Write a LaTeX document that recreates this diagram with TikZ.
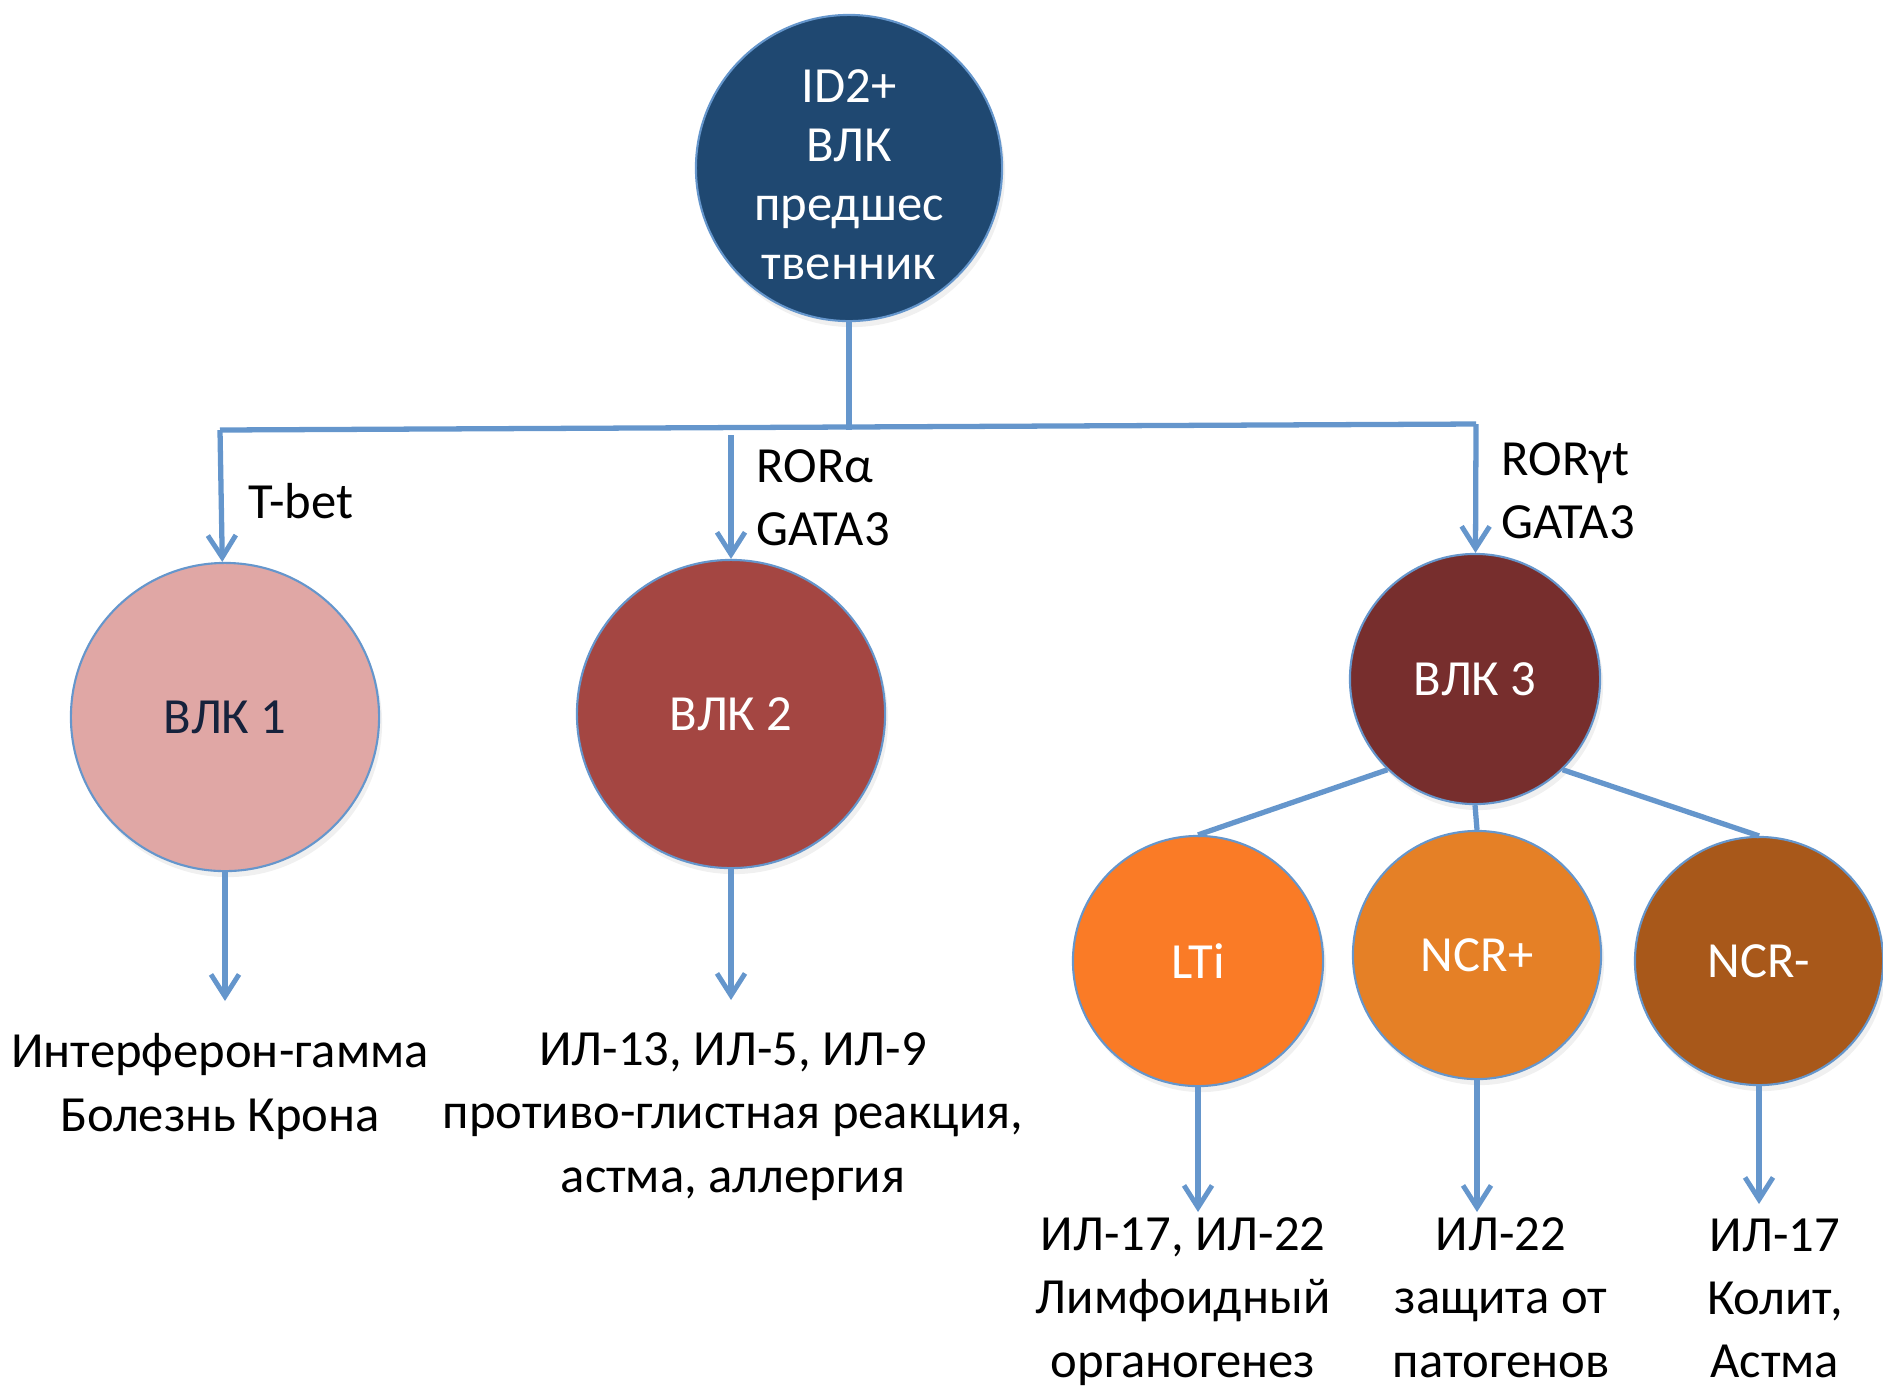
\documentclass[tikz,border=0pt]{standalone}
\usepackage{fontspec}
\setmainfont{Carlito}
\usetikzlibrary{arrows.meta, shadows}

\definecolor{linkblue}{RGB}{101,150,204}
\definecolor{progblue}{RGB}{31,72,113}
\definecolor{ilcone}{RGB}{224,167,165}
\definecolor{ilctwo}{RGB}{164,70,66}
\definecolor{ilcthree}{RGB}{119,46,45}
\definecolor{ltiorange}{RGB}{250,123,38}
\definecolor{ncrplus}{RGB}{229,128,38}
\definecolor{ncrminus}{RGB}{168,88,26}
\definecolor{navytext}{RGB}{22,34,60}

\begin{document}
\begin{tikzpicture}[
            x = 0.01cm, y = -0.01cm, % one unit = one pixel of the slide
            > = {Straight Barb[length=2.2mm, width=2.8mm, line width=1.4pt]}, % arrow head style
            line width = 1.5pt,
            font = \fontsize{14.4}{18}\selectfont
        ]

        \tikzstyle{cell}=[
            circle,
            draw = linkblue,
            line width = 0.6pt,
            text = white,
            align = center,
            inner sep = 0pt,
            drop shadow = {opacity = 0.12, shadow xshift = 0.3mm, shadow yshift = -0.6mm}
        ]
        \tikzstyle{link}=[draw = linkblue]
        \tikzstyle{res}=[align = center, anchor = north, inner sep = 0pt]
        \tikzstyle{tf}=[align = left, anchor = west, inner sep = 0pt]

        \useasboundingbox (0,0) rectangle (1883,1390);

        \node[cell, fill = progblue, minimum size = 3.06cm, font = \fontsize{14.4}{16.8}\selectfont] (prog) at (  849 ,  168 ) {\rule{0pt}{4.6mm}ID2+\\ВЛК\\предшес\\твенник};
        \node[cell, fill = ilcone, text = navytext, minimum size = 3.08cm] (ilc1) at (  225 ,  717 ) {ВЛК 1};
        \node[cell, fill = ilctwo,   minimum size = 3.08cm] (ilc2) at (  731 ,  714 ) {ВЛК 2};
        \node[cell, fill = ilcthree, minimum size = 2.50cm] (ilc3) at ( 1475 ,  679 ) {ВЛК 3};
        \node[cell, fill = ltiorange, minimum size = 2.50cm] (lti)  at ( 1198 ,  961 ) {LTi};
        \node[cell, fill = ncrplus,  minimum size = 2.48cm] (ncrp) at ( 1477 ,  955 ) {NCR+};
        \node[cell, fill = ncrminus, minimum size = 2.48cm] (ncrm) at ( 1759 ,  961 ) {NCR-};

        \coordinate (b1) at (  220 , 430 );
        \coordinate (b2) at (  731 , 435 );
        \coordinate (b3) at ( 1476 , 424 );

        % transcription factors
        \node[tf] (tbet)  at (  246 , 501 ) {T-bet};
        \node[tf] (rora)  at (  754 , 498 ) {RORα\\GATA3};
        \node[tf] (rorgt) at ( 1499 , 491 ) {RORγt\\GATA3};

        % cytokines and diseases
        \node[res] (res1) at (  220 , 1031 ) {Интерферон-гамма\\Болезнь Крона};
        \node[res] (res2) at (  733 , 1030 ) {ИЛ-13, ИЛ-5, ИЛ-9\\противо-глистная реакция,\\астма, аллергия};
        \node[res] (res4) at ( 1183 , 1215 ) {ИЛ-17, ИЛ-22\\Лимфоидный\\органогенез};
        \node[res] (res5) at ( 1501 , 1215 ) {ИЛ-22\\защита от\\патогенов};
        \node[res] (res6) at ( 1775 , 1216 ) {ИЛ-17\\Колит,\\Астма};

        \path[link] (prog) edge (prog |- b1);
        \path[link] (b1) edge (b3);
        \path[link] (b1) edge [->] (ilc1);
        \path[link] (b2) edge [->] (ilc2);
        \path[link] (b3) edge [->] (ilc3);

        \path[link] (ilc3.-134) edge (lti.north);
        \path[link] (ilc3.south) edge (ncrp.north);
        \path[link] (ilc3.-46) edge (ncrm.north);

        \path[link] (ilc1) edge [->, shorten > = 3mm] (ilc1 |- res1.north);
        \path[link] (ilc2) edge [->, shorten > = 3mm] (ilc2 |- res2.north);
        \path[link] (lti)  edge [->, shorten > = 0.3mm] (lti |- res4.north);
        \path[link] (ncrp) edge [->, shorten > = 0.3mm] (ncrp |- res5.north);
        \path[link] (ncrm) edge [->, shorten > = 1.2mm] (ncrm |- res6.north);

    \end{tikzpicture}
\end{document}
